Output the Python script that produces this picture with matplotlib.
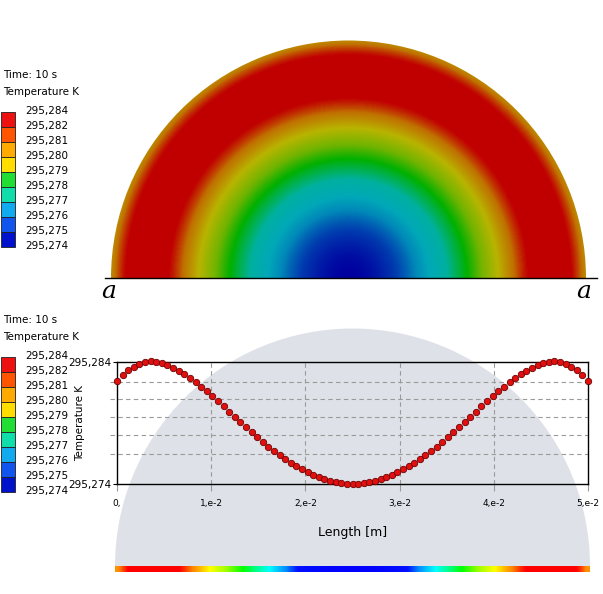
import numpy as np
import matplotlib
matplotlib.use("Agg")
import matplotlib.pyplot as plt
from matplotlib.colors import LinearSegmentedColormap, Normalize
from matplotlib.patches import Wedge, Rectangle

# temperature along the line a-a
temperature_k = [
    295.28241, 295.28293, 295.28332, 295.28362, 295.28384, 295.28397, 295.28405,
    295.28403, 295.28392, 295.28375, 295.28353, 295.28329, 295.28301, 295.28268,
    295.28233, 295.28197, 295.28159, 295.28118, 295.28077, 295.28036, 295.27992,
    295.27951, 295.27907, 295.27866, 295.27825, 295.27784, 295.27745, 295.27707,
    295.27671, 295.27636, 295.27603, 295.27573, 295.27545, 295.27521, 295.27496,
    295.27477, 295.27458, 295.27441, 295.27427, 295.27416, 295.27408, 295.27403,
    295.27400,
    295.27403, 295.27408, 295.27416, 295.27427, 295.27441, 295.27458, 295.27477,
    295.27496, 295.27521, 295.27545, 295.27573, 295.27603, 295.27636, 295.27671,
    295.27707, 295.27745, 295.27784, 295.27825, 295.27866, 295.27907, 295.27951,
    295.27992, 295.28036, 295.28077, 295.28118, 295.28159, 295.28197, 295.28233,
    295.28268, 295.28301, 295.28329, 295.28353, 295.28375, 295.28392, 295.28403,
    295.28405, 295.28397, 295.28384, 295.28362, 295.28332, 295.28293, 295.28241,
]
diameter_m = 0.05
length_m = np.linspace(0, diameter_m, len(temperature_k))

t_min, t_max = 295.274, 295.284
legend_labels = ["295,284", "295,282", "295,281", "295,280", "295,279",
                 "295,278", "295,277", "295,276", "295,275", "295,274"]
legend_colors = ["#ee1111", "#ff5500", "#ffaa00", "#ffdd00", "#22dd33",
                 "#11ddaa", "#11aaee", "#1155ee", "#0011cc"]
x_ticks = [0, 0.01, 0.02, 0.03, 0.04, 0.05]
x_tick_labels = ["0,", "1,e-2", "2,e-2", "3,e-2", "4,e-2", "5,e-2"]
y_grid = [295.2824, 295.2810, 295.2795, 295.2780, 295.2765]

dull_stops = [0.0, 0.11, 0.20, 0.28, 0.40, 0.55, 0.66, 0.78, 0.88, 0.95, 1.0]
dull = ["#0000a0", "#0040b0", "#0088b8", "#00a8b8", "#00b0a0", "#00b000",
        "#70b400", "#b8b400", "#c07000", "#c00000", "#c00000"]
bright_stops = [0.0, 0.14, 0.20, 0.30, 0.40, 0.49, 0.62, 0.74, 0.86, 0.93, 1.0]
bright = ["#0000ff", "#0010ff", "#0090ff", "#00ffff", "#00ff80", "#00ff00",
          "#a0ff00", "#ffff00", "#ff8000", "#ff0000", "#ff0000"]
cmap_dull = LinearSegmentedColormap.from_list("dull", list(zip(dull_stops, dull)))
cmap_bright = LinearSegmentedColormap.from_list("bright", list(zip(bright_stops, bright)))
norm = Normalize(t_min, t_max)

W, H = 603, 594
fig = plt.figure(figsize=(W / 100, H / 100), dpi=100)
fig.patch.set_facecolor("white")


def px_axes(x0, y0, x1, y1):
    return fig.add_axes([x0 / W, 1 - y1 / H, (x1 - x0) / W, (y1 - y0) / H])


# background axes in pixel units
bg = px_axes(0, 0, W, H)
bg.axis("off")
bg.add_patch(Wedge((352.5, 566), 237.5, 180, 360, facecolor="#dee2e8", edgecolor="none"))
bg.imshow(np.array(temperature_k)[None, :], extent=(115, 590, 572, 566), aspect="auto",
          cmap=cmap_bright, norm=norm, interpolation="bilinear")
bg.set_xlim(0, W)
bg.set_ylim(H, 0)

# legends
for top in (112, 357):
    bg.text(3, top - 37, "Time: 10 s", fontsize=7.5, va="center", ha="left")
    bg.text(3, top - 20, "Temperature K", fontsize=7.5, va="center", ha="left")
    for i, c in enumerate(legend_colors):
        bg.add_patch(Rectangle((1, top + 15 * i), 14, 15, facecolor=c,
                               edgecolor="#202020", lw=0.6))
    for i, lab in enumerate(legend_labels):
        bg.text(25, top - 1 + 15 * i, lab, fontsize=7.5, va="center", ha="left")

bg.text(109, 291, "a", fontsize=18, style="italic", family="DejaVu Serif",
        ha="center", va="center")
bg.text(584, 291, "a", fontsize=18, style="italic", family="DejaVu Serif",
        ha="center", va="center")

# temperature field on the half disc
R = diameter_m / 2
k = R / 237.5
ax_top = px_axes(100, 30, 600, 300)
ax_top.axis("off")
half = len(temperature_k) // 2 + 1
r_prof = (R - length_m[:half])[::-1]
t_prof = np.array(temperature_k[:half])[::-1]
gx = np.linspace(-R, R, 600)
gy = np.linspace(0, R, 300)
XX, YY = np.meshgrid(gx, gy)
field = np.interp(np.hypot(XX, YY), r_prof, t_prof)
im = ax_top.imshow(field, extent=(-R, R, 0, R), origin="lower", cmap=cmap_dull,
                   norm=norm, interpolation="bilinear", aspect="auto")
clip = Wedge((0, 0), R, 0, 180, transform=ax_top.transData, facecolor="none")
im.set_clip_path(clip)
ax_top.plot([(105 - 348.5) * k, (597 - 348.5) * k], [0, 0], color="black", lw=1, zorder=3)
ax_top.set_xlim((100 - 348.5) * k, (600 - 348.5) * k)
ax_top.set_ylim((278 - 300) * k, (278 - 30) * k)

# line plot
ax = px_axes(117, 362, 588, 484)
ax.set_facecolor("none")
ax.set_xlim(0, diameter_m)
ax.set_ylim(t_min, t_max)
for v in x_ticks[1:-1]:
    ax.axvline(v, color="#9a9a9a", lw=0.8, ls=(0, (4, 3)), zorder=1)
for v in y_grid:
    ax.axhline(v, xmin=-0.015, xmax=1, color="#9a9a9a", lw=0.8, ls=(0, (4, 3)),
               zorder=1, clip_on=False)
ax.plot(length_m, temperature_k, "o", ms=4.6, mfc="#e01010", mec="#700000",
        mew=0.6, clip_on=False, zorder=4)
ax.set_xticks(x_ticks)
ax.set_xticklabels(x_tick_labels, fontsize=6.5)
ax.set_yticks([t_min, t_max])
ax.set_yticklabels(["295,274", "295,284"], fontsize=7.5)
ax.tick_params(axis="x", length=5, width=0.8, color="#9a9a9a", pad=6)
ax.tick_params(axis="y", length=3, width=0.8, pad=1)
for s in ax.spines.values():
    s.set_linewidth(1)
    s.set_color("black")
ax.set_ylabel("Temperature K", fontsize=7.5)
ax.yaxis.set_label_coords((85 - 117) / 471, 0.5)
ax.set_xlabel("Length [m]", fontsize=9, labelpad=13)

fig.savefig("out.png", dpi=100, facecolor="white")
